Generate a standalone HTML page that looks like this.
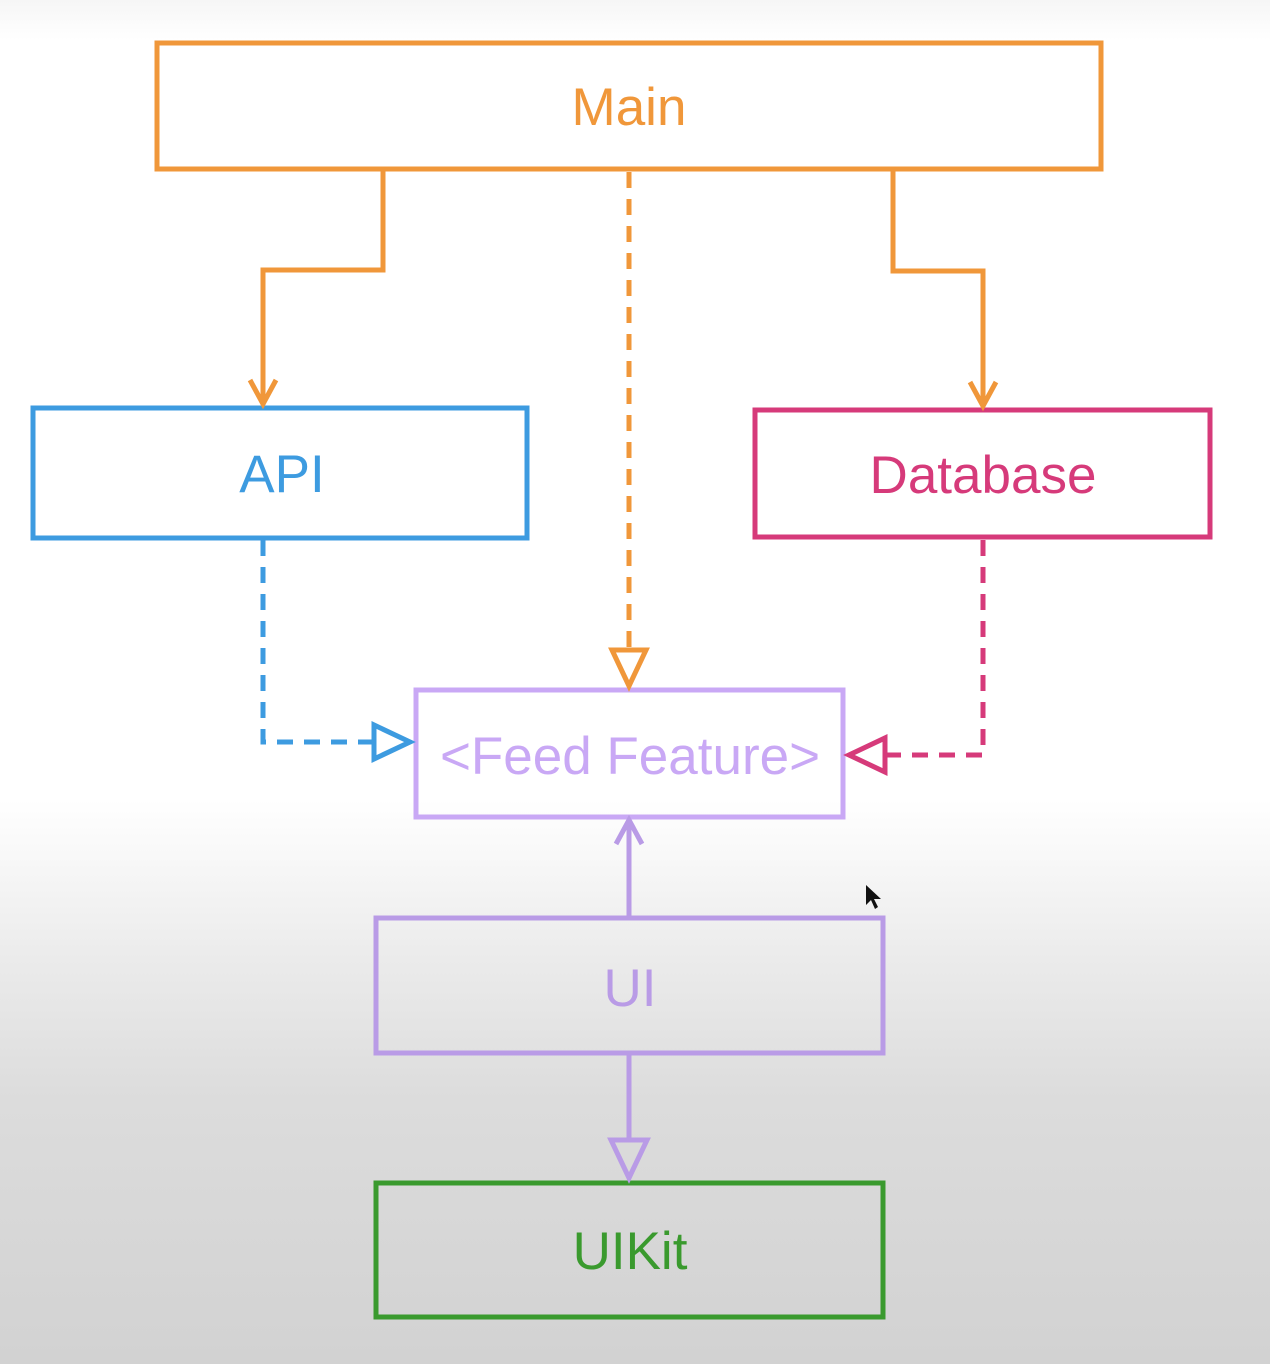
<!DOCTYPE html>
<html><head><meta charset="utf-8"><style>
html,body{margin:0;padding:0}
body{width:1270px;height:1364px;overflow:hidden;background:linear-gradient(to bottom,#f6f6f6 0px,#ffffff 40px,#ffffff 800px,#ececec 950px,#dcdcdc 1100px,#d2d2d2 1364px)}
svg{display:block}
text{font-family:"Liberation Sans",sans-serif;font-size:53px;text-anchor:middle}
</style></head><body>
<svg width="1270" height="1364" viewBox="0 0 1270 1364">
<g fill="none" stroke-width="5">
<rect x="157" y="43" width="944" height="126" stroke="#f0973a"/>
<rect x="33" y="408" width="494" height="130" stroke="#3d9be0"/>
<rect x="755" y="410" width="455" height="127" stroke="#d63a7a"/>
<rect x="416" y="690" width="427" height="127" stroke="#c9a8f5"/>
<rect x="376" y="918" width="507" height="135" stroke="#b99be6"/>
<rect x="376" y="1183" width="507" height="134" stroke="#3a9a2e"/>

<polyline points="383,169 383,270 263,270 263,402" stroke="#f0973a"/>
<polyline points="250,380 263,404 276,380" stroke="#f0973a"/>
<polyline points="893,169 893,271 983,271 983,405" stroke="#f0973a"/>
<polyline points="970,382 983,406 996,382" stroke="#f0973a"/>

<line x1="629" y1="172" x2="629" y2="650" stroke="#f0973a" stroke-dasharray="16,11"/>
<polygon points="612,650 646,650 629,686" stroke="#f0973a"/>

<polyline points="263,540 263,742 372,742" stroke="#3d9be0" stroke-dasharray="16,11"/>
<polygon points="374,725 374,759 410,742" stroke="#3d9be0"/>

<polyline points="983,540 983,755 885,755" stroke="#d63a7a" stroke-dasharray="16,11"/>
<polygon points="885,738 885,772 849,755" stroke="#d63a7a"/>

<line x1="629" y1="918" x2="629" y2="822" stroke="#b99be6"/>
<polyline points="616,844 629,820 642,844" stroke="#b99be6"/>
<line x1="629" y1="1053" x2="629" y2="1140" stroke="#b99be6"/>
<polygon points="611,1140 647,1140 629,1178" stroke="#b99be6"/>
</g>
<text x="629" y="125" fill="#f0973a">Main</text>
<text x="282" y="492" fill="#3d9be0">API</text>
<text x="983" y="493" fill="#d63a7a">Database</text>
<text x="630" y="774" fill="#c9a8f5">&lt;Feed Feature&gt;</text>
<text x="630" y="1006" fill="#b99be6">UI</text>
<text x="630" y="1269" fill="#3a9a2e">UIKit</text>
<polygon points="866,885 866,905 871,900 875,909 878,907 874,899 881,899" fill="#111"/>
</svg>
</body></html>
